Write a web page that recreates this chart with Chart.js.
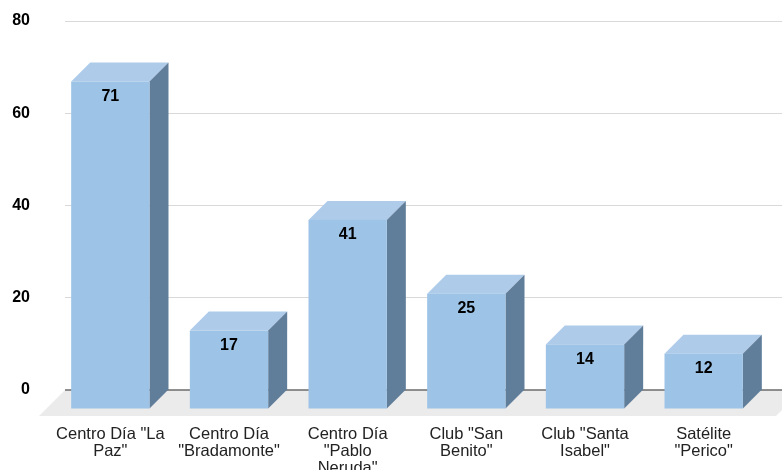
<!DOCTYPE html>
<html>
<head>
<meta charset="utf-8">
<script src="https://cdn.jsdelivr.net/npm/chart.js@4.4.0/dist/chart.umd.min.js"></script>
<style>
  html, body { margin: 0; padding: 0; background: #fff; }
  #wrap { width: 782px; height: 470px; }
</style>
</head>
<body>
<div id="wrap"><canvas id="chart"></canvas></div>
<script>
// data
const categories = [
  ['Centro Día "La', 'Paz"'],
  ['Centro Día', '"Bradamonte"'],
  ['Centro Día', '"Pablo', 'Neruda"'],
  ['Club "San', 'Benito"'],
  ['Club "Santa', 'Isabel"'],
  ['Satélite', '"Perico"']
];
const values = [71, 17, 41, 25, 14, 12];
const yTicks = [0, 20, 40, 60, 80];

const FONT = "'Liberation Sans', Arial, sans-serif";
const depth = 19;       // 3d offset of the bars
const floorDepth = 26;  // 3d offset of the floor

const bars3d = {
  id: 'bars3d',
  beforeDatasetsDraw(chart) {
    const { ctx, chartArea } = chart;
    const y0 = chart.scales.y.getPixelForValue(0);
    ctx.save();
    ctx.fillStyle = '#ebebeb';
    ctx.beginPath();
    ctx.moveTo(chartArea.left - 5, y0);
    ctx.lineTo(chartArea.right + 20, y0);
    ctx.lineTo(chartArea.right + 20 - floorDepth, y0 + floorDepth);
    ctx.lineTo(chartArea.left - 5 - floorDepth, y0 + floorDepth);
    ctx.closePath();
    ctx.fill();
    ctx.strokeStyle = '#6b6b6b';
    ctx.lineWidth = 1.5;
    ctx.beginPath();
    ctx.moveTo(chartArea.left - 5, y0);
    ctx.lineTo(chartArea.right, y0);
    ctx.stroke();
    ctx.restore();
  },
  afterDatasetsDraw(chart) {
    const { ctx } = chart;
    const meta = chart.getDatasetMeta(0);
    ctx.save();
    meta.data.forEach((bar, i) => {
      const { x, y, base, width } = bar.getProps(['x', 'y', 'base', 'width'], true);
      const l = x - width / 2, r = x + width / 2;
      // top face
      ctx.fillStyle = '#aecbea';
      ctx.beginPath();
      ctx.moveTo(l - depth, y + depth);
      ctx.lineTo(l, y);
      ctx.lineTo(r, y);
      ctx.lineTo(r - depth, y + depth);
      ctx.closePath();
      ctx.fill();
      // side face
      ctx.fillStyle = '#607d99';
      ctx.beginPath();
      ctx.moveTo(r - depth, y + depth);
      ctx.lineTo(r, y);
      ctx.lineTo(r, base);
      ctx.lineTo(r - depth, base + depth);
      ctx.closePath();
      ctx.fill();
      // front face
      ctx.fillStyle = '#9dc3e6';
      ctx.fillRect(l - depth, y + depth, width, base - y);
      // value label
      ctx.fillStyle = '#000';
      ctx.font = 'bold 16px ' + FONT;
      ctx.textAlign = 'center';
      ctx.textBaseline = 'middle';
      ctx.fillText(values[i], x - depth, y + depth + 15);
    });
    ctx.restore();
  }
};

new Chart(document.getElementById('chart'), {
  type: 'bar',
  data: {
    labels: categories,
    datasets: [{
      data: values,
      backgroundColor: 'rgba(0,0,0,0)',
      borderWidth: 0,
      categoryPercentage: 0.66,
      barPercentage: 1
    }]
  },
  options: {
    responsive: true,
    maintainAspectRatio: false,
    animation: false,
    layout: { padding: { top: 21, right: 0, left: 0, bottom: 0 } },
    plugins: { legend: { display: false }, tooltip: { enabled: false } },
    scales: {
      x: {
        grid: { display: false },
        border: { display: false },
        ticks: {
          autoSkip: false,
          maxRotation: 0,
          labelOffset: -depth,
          padding: 28,
          color: '#222',
          font: { family: FONT, size: 16.5, lineHeight: 1.02 }
        },
        afterFit(s) { s.height = 80; }
      },
      y: {
        min: 0,
        max: 80,
        afterBuildTicks(s) { s.ticks = yTicks.map(v => ({ value: v })); },
        // long tick area keeps labels at the left; only the last 5px of it is painted
        grid: { color: '#d9d9d9', drawTicks: true, tickLength: 40, tickColor: '#d9d9d9', tickBorderDash: [0, 35, 5, 100] },
        border: { display: false },
        ticks: {
          padding: 0,
          color: '#000',
          font: { family: FONT, size: 16, weight: 'bold' }
        },
        afterFit(s) { s.width = 70; }
      }
    }
  },
  plugins: [bars3d]
});
</script>
</body>
</html>
